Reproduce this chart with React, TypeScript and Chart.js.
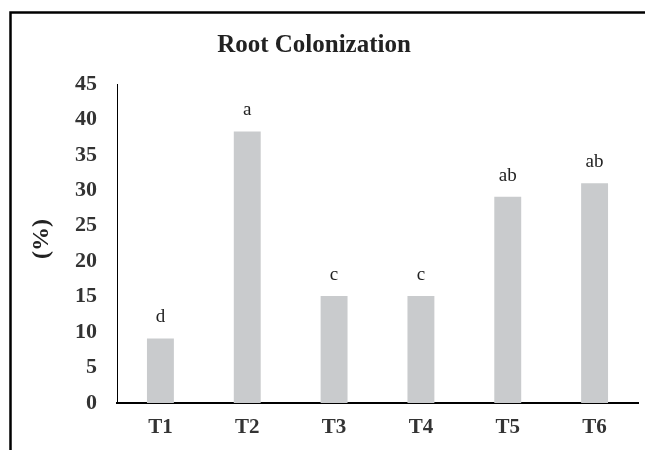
import React, { useEffect, useRef } from "react";
import { Chart, registerables } from "chart.js";

Chart.register(...registerables);

const categories = ["T1", "T2", "T3", "T4", "T5", "T6"];
const colonization = [9.1, 38.3, 15.1, 15.1, 29.1, 31.0];
const letters = ["d", "a", "c", "c", "ab", "ab"];
const yTicks = [0, 5, 10, 15, 20, 25, 30, 35, 40, 45];
const chartTitle = "Root Colonization";
const yTitle = "(%)";

const SERIF = "'Liberation Serif', 'Times New Roman', serif";

const decorPlugin = {
  id: "decor",
  beforeDraw(chart: any) {
    const ctx = chart.ctx;
    ctx.save();
    ctx.fillStyle = "#fff";
    ctx.fillRect(0, 0, chart.width, chart.height);
    ctx.strokeStyle = "#000";
    ctx.lineWidth = 2.5;
    ctx.beginPath();
    ctx.moveTo(10.5, chart.height + 5);
    ctx.lineTo(10.5, 12.5);
    ctx.lineTo(chart.width + 5, 12.5);
    ctx.stroke();
    ctx.restore();
  },
  afterDatasetsDraw(chart: any) {
    const ctx = chart.ctx;
    ctx.save();
    // title
    ctx.fillStyle = "#222";
    ctx.font = `bold 25px ${SERIF}`;
    ctx.textAlign = "center";
    ctx.textBaseline = "middle";
    ctx.fillText(chartTitle, 314, 46);
    // y title
    ctx.save();
    ctx.translate(42, 239);
    ctx.rotate(-Math.PI / 2);
    ctx.font = `bold 24px ${SERIF}`;
    ctx.fillText(yTitle, 0, 0);
    ctx.restore();
    // letters
    const meta = chart.getDatasetMeta(0);
    ctx.font = `19px ${SERIF}`;
    ctx.fillStyle = "#222";
    meta.data.forEach((bar: any, i: number) => {
      ctx.fillText(letters[i], bar.x, bar.y - 21);
    });
    ctx.restore();
  },
};

export default function App() {
  const ref = useRef<HTMLCanvasElement>(null);
  useEffect(() => {
    if (!ref.current) return;
    const chart = new Chart(ref.current, {
      type: "bar",
      data: {
        labels: categories,
        datasets: [
          {
            data: colonization,
            backgroundColor: "#c9cbcd",
            borderWidth: 0,
            categoryPercentage: 1,
            barPercentage: 0.31,
          },
        ],
      },
      options: {
        animation: false,
        responsive: false,
        maintainAspectRatio: false,
        layout: { padding: { top: 84, right: 7, left: 0, bottom: 0 } },
        plugins: {
          legend: { display: false },
          title: { display: false },
          tooltip: { enabled: false },
        },
        scales: {
          x: {
            grid: { display: false, drawTicks: false },
            border: { display: true, color: "#000", width: 2 },
            ticks: {
              color: "#333",
              font: { family: SERIF, size: 21, weight: "bold" },
              padding: 12,
            },
            afterFit: (s: any) => {
              s.height = 47;
            },
          },
          y: {
            min: 0,
            max: 45,
            afterBuildTicks: (s: any) => {
              s.ticks = yTicks.map((v) => ({ value: v }));
            },
            grid: { display: false, drawTicks: false },
            border: { display: true, color: "#000", width: 1 },
            ticks: {
              color: "#333",
              font: { family: SERIF, size: 22, weight: "bold" },
              padding: 20,
            },
            afterFit: (s: any) => {
              s.width = 117;
            },
          },
        },
      },
      plugins: [decorPlugin],
    });
    return () => chart.destroy();
  }, []);
  return (
    <div style={{ position: "fixed", left: 0, top: 0, width: 645, height: 450 }}>
      <canvas ref={ref} width={645} height={450} style={{ width: 645, height: 450 }} />
    </div>
  );
}
